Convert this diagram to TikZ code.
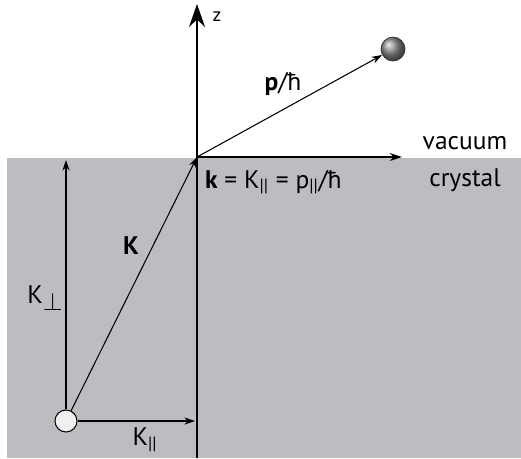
\documentclass[tikz,border=0pt]{standalone}
\usepackage{fontspec}
\setmainfont{PT Sans}
\usetikzlibrary{arrows.meta}
\definecolor{crystalgray}{RGB}{188,189,193}
\begin{document}
\begin{tikzpicture}[x=0.02cm, y=-0.02cm,
    vec/.style={-{Stealth[length=6pt,width=4pt]}, line width=0.6pt},
    lbl/.style={font=\fontsize{14.5}{16}\selectfont, inner sep=1pt},
    electron/.style={circle, draw, line width=0.6pt, fill=gray!12, minimum size=22*0.02cm, inner sep=0pt},
    ball/.style={circle, draw=black!80, line width=0.4pt, shading=ball, ball color=gray!90, minimum size=24*0.02cm, inner sep=0pt}]
    \useasboundingbox (0,0) rectangle (521,458);

    % Kristall
    \fill[crystalgray] (7,158) rectangle (521,458);

    % Punkte
    \coordinate (O) at (197,157);
    \coordinate (ztop) at (197,4);
    \coordinate (zbot) at (197,458);
    \coordinate (xend) at (402,157);
    \coordinate (perpend) at (66,160);
    \coordinate (parend) at (195,421);
    \node[ball] (ball) at (393,49) {};
    \node[electron] (el) at (66,421) {};

    % Achsen
    \draw[line width=1.7pt, -{Stealth[length=13pt,width=9pt]}] (zbot) -- (ztop);
    \draw[line width=1pt, -{Stealth[length=7pt,width=4.5pt]}] (O) -- (xend);

    % Vektoren
    \draw[vec] (O) -- (ball);
    \draw[vec] (el) -- (O);
    \draw[vec] (el.north) -- (perpend);
    \draw[vec] (el.east) -- (parend);

    % Beschriftung
    \node[font=\fontsize{11}{13}\selectfont] (zlab) at (217,17) {z};
    \node[lbl] (plab) at (283,84) {\textbf{p}/ħ};
    \node[lbl] (vaclab) at (465,143) {vacuum};
    \node[lbl] (crylab) at (465,180) {crystal};
    \node[lbl, anchor=west] (klab) at (203,182) {\textbf{k} = K\textsubscript{||} = p\textsubscript{||}/ħ};
    \node[lbl] (Klab) at (131,246) {\textbf{K}};
    \node[lbl] (Kperplab) at (45,298) {K\raisebox{-4pt}{$\perp$}};
    \node[lbl] (Kparlab) at (145,440) {K\textsubscript{||}};
\end{tikzpicture}
\end{document}
